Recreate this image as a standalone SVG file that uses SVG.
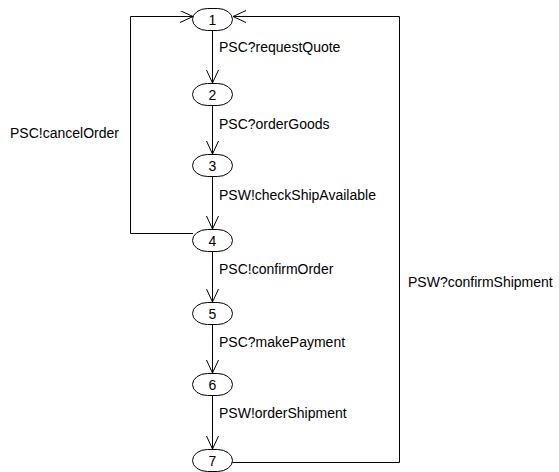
<svg xmlns="http://www.w3.org/2000/svg" width="559" height="472" viewBox="0 0 559 472">
<style>
.n{fill:#fff;stroke:#000;stroke-width:1}
.t{font-family:"Liberation Sans",Arial,sans-serif;font-size:14px;fill:#000}
.c{text-anchor:middle}
.e{fill:none;stroke:#000;stroke-width:1}
</style>
<defs>
<marker id="a" markerWidth="14" markerHeight="14" refX="13" refY="6" orient="auto" markerUnits="userSpaceOnUse">
<path d="M0,0 L13,6 L0,12" fill="none" stroke="#000" stroke-width="1"/>
</marker>
</defs>
<rect width="559" height="472" fill="#fff"/>
<g id="connectors">
<line class="e" x1="212.5" y1="30" x2="212.5" y2="83" marker-end="url(#a)"/>
<line class="e" x1="212.5" y1="105" x2="212.5" y2="154" marker-end="url(#a)"/>
<line class="e" x1="212.5" y1="176" x2="212.5" y2="229" marker-end="url(#a)"/>
<line class="e" x1="212.5" y1="251" x2="212.5" y2="302" marker-end="url(#a)"/>
<line class="e" x1="212.5" y1="324" x2="212.5" y2="373" marker-end="url(#a)"/>
<line class="e" x1="212.5" y1="395" x2="212.5" y2="449" marker-end="url(#a)"/>
<polyline class="e" points="193,233.5 130.5,233.5 130.5,16.5 193,16.5" marker-end="url(#a)"/>
<polyline class="e" points="232,462.5 399.5,462.5 399.5,16.5 233,16.5" marker-end="url(#a)"/>
<text class="t" x="219" y="52">PSC?requestQuote</text>
<text class="t" x="219" y="129">PSC?orderGoods</text>
<text class="t" x="219" y="200">PSW!checkShipAvailable</text>
<text class="t" x="219" y="274">PSC!confirmOrder</text>
<text class="t" x="219" y="347">PSC?makePayment</text>
<text class="t" x="219" y="418">PSW!orderShipment</text>
<text class="t" x="10" y="138">PSC!cancelOrder</text>
<text class="t" x="408" y="287">PSW?confirmShipment</text>
</g>
<g id="n1"><rect class="n" x="192.5" y="8.5" width="40" height="22" rx="15" ry="11"/><text class="t c" x="212.5" y="24.5">1</text></g>
<g id="n2"><rect class="n" x="192.5" y="83.5" width="40" height="22" rx="15" ry="11"/><text class="t c" x="212.5" y="99.5">2</text></g>
<g id="n3"><rect class="n" x="192.5" y="154.5" width="40" height="22" rx="15" ry="11"/><text class="t c" x="212.5" y="170.5">3</text></g>
<g id="n4"><rect class="n" x="192.5" y="229.5" width="40" height="22" rx="15" ry="11"/><text class="t c" x="212.5" y="245.5">4</text></g>
<g id="n5"><rect class="n" x="192.5" y="302.5" width="40" height="22" rx="15" ry="11"/><text class="t c" x="212.5" y="318.5">5</text></g>
<g id="n6"><rect class="n" x="192.5" y="373.5" width="40" height="22" rx="15" ry="11"/><text class="t c" x="212.5" y="389.5">6</text></g>
<g id="n7"><rect class="n" x="192.5" y="449.5" width="40" height="22" rx="15" ry="11"/><text class="t c" x="212.5" y="465.5">7</text></g>
</svg>
